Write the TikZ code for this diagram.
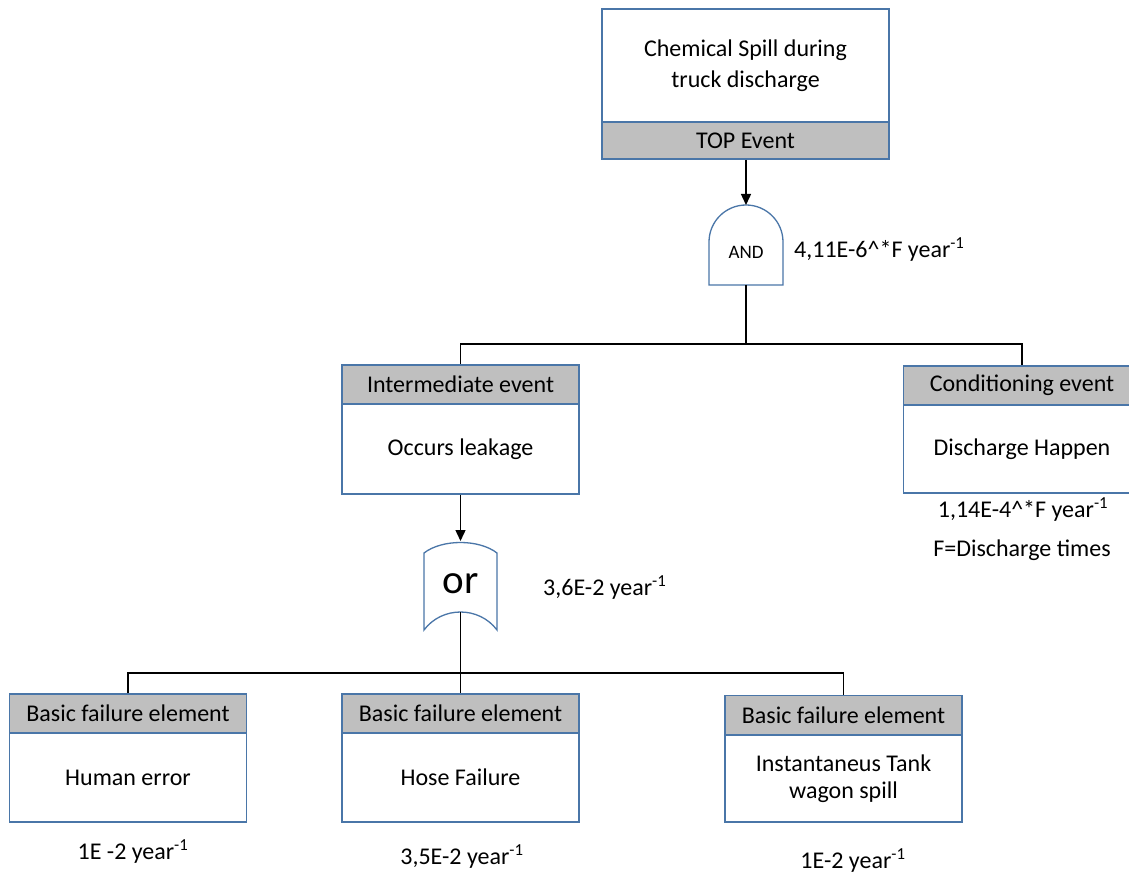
\documentclass[tikz,border=0pt]{standalone}
\usepackage{fontspec}
\setmainfont{Carlito}
\usetikzlibrary{arrows.meta}
\definecolor{edgeblue}{RGB}{74,118,168}
\definecolor{bandgray}{RGB}{191,191,191}
\newcommand\fsMain{\fontsize{24}{31}\selectfont}
\newcommand\fsTight{\fontsize{24}{27}\selectfont}
\newcommand\yr{year\textsuperscript{-1}}
\tikzset{
  evband/.style={draw=edgeblue, fill=bandgray, line width=1.6pt, minimum width=237pt,
    minimum height=39pt, inner sep=0pt, font=\fsMain},
  evbody/.style={draw=edgeblue, fill=white, line width=1.6pt, minimum width=237pt,
    minimum height=89pt, inner sep=0pt, align=center, font=\fsMain},
  gate/.style={draw=edgeblue, line width=1.3pt, fill=white},
  conn/.style={draw=black, line width=1.4pt},
  arr/.style={conn, -{Triangle[length=11pt,width=10pt]}},
  rate/.style={inner sep=0pt, font=\fsMain},
}
\begin{document}
\begin{tikzpicture}[x=1pt,y=-1pt]
\useasboundingbox (0,0) rectangle (1129,874);

% top event
\node[evbody, minimum width=287pt, minimum height=113pt] (topbody) at (745.5,65.5)
  {Chemical Spill during\\truck discharge};
\node[evband, minimum width=287pt, minimum height=37pt] (topband) at (745.5,140.5) {TOP Event};

% AND gate (y axis points down, so the dome runs through 270 degrees)
\coordinate (andtop) at (746,205);
\coordinate (andbot) at (746,285);
\draw[gate] (709,285) -- (709,242) arc[start angle=180, end angle=360, radius=37] -- (783,285) -- cycle;
\node[font=\fontsize{19}{22}\selectfont, inner sep=0pt] (andlbl) at (746,252) {AND};
\node[rate, anchor=west] (andrate) at (794,250) {4,11E-6\textasciicircum*F \yr};

% intermediate and conditioning events
\node[evband] (interband) at (460.5,384.5) {Intermediate event};
\node[evbody, minimum height=90pt] (interbody) at (460.5,449) {Occurs leakage};
\node[evband] (condband) at (1022,385.5) {Conditioning event};
\node[evbody, minimum height=88pt] (condbody) at (1022,449) {Discharge Happen};
\node[rate] (condrate) at (1023,510) {1,14E-4\textasciicircum*F \yr};
\node[rate] (condnote) at (1022,550) {F=Discharge times};

% OR gate
\coordinate (ortop) at (460.5,541);
\coordinate (orbot) at (460.5,612);
\draw[gate] (424,553) .. controls (442,539) and (479,539) .. (497,553)
  -- (497,630) .. controls (479,606) and (442,606) .. (424,630) -- cycle;
\node[font=\fontsize{41}{44}\selectfont, inner sep=0pt] (orlbl) at (460.5,584) {or};
\node[rate, anchor=west] (orrate) at (543,588) {3,6E-2 \yr};

% basic failure elements
\node[evband] (b1band) at (128,713.5) {Basic failure element};
\node[evbody] (b1body) at (128,777.5) {Human error};
\node[evband] (b2band) at (460.5,713.5) {Basic failure element};
\node[evbody] (b2body) at (460.5,777.5) {Hose Failure};
\node[evband] (b3band) at (843.5,715) {Basic failure element};
\node[evbody, minimum height=87pt, font=\fsTight] (b3body) at (843.5,778.5) {Instantaneus Tank\\wagon spill};
\node[rate] (b1rate) at (133,852) {1E -2 \yr};
\node[rate] (b2rate) at (462,857) {3,5E-2 \yr};
\node[rate] (b3rate) at (853,861) {1E-2 \yr};

% connectors
\coordinate (j1) at (746,344);
\coordinate (j2) at (460.5,673);
\draw[arr] (topband.south -| andtop) -- (andtop);
\draw[conn] (andbot) -- (j1);
\draw[conn] (interband.north) |- (j1) -| (condband.north);
\draw[arr] (interbody.south) -- (ortop);
\draw[conn] (orbot) -- (j2);
\draw[conn] (b1band.north) |- (j2) -| (b3band.north);
\draw[conn] (j2) -- (b2band.north);
\end{tikzpicture}
\end{document}
